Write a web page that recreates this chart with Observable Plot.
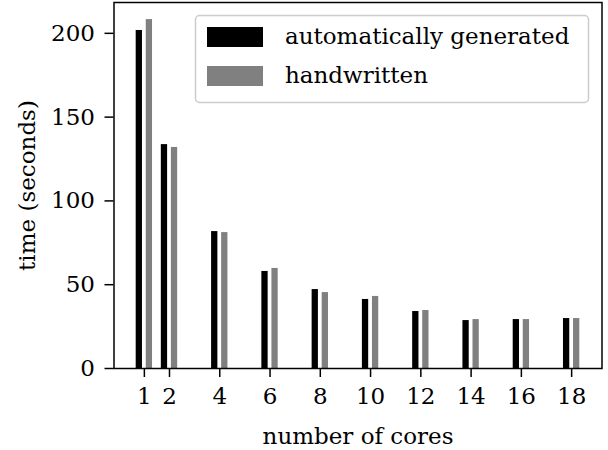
<!DOCTYPE html>
<html>
<head>
<meta charset="utf-8">
<script src="https://cdn.jsdelivr.net/npm/d3@7"></script>
<script src="https://cdn.jsdelivr.net/npm/@observablehq/plot@0.6"></script>
<style>
  html, body { margin: 0; padding: 0; background: white; }
  #chart { width: 608px; height: 450px; }
</style>
</head>
<body>
<div id="chart"></div>
<script>
const cores = [1, 2, 4, 6, 8, 10, 12, 14, 16, 18];
const automatic = [201.7, 133.6, 81.7, 57.9, 47.1, 41.2, 34.0, 28.6, 29.2, 29.8];
const handwritten = [208.2, 131.9, 81.1, 59.7, 45.3, 43.0, 34.6, 29.2, 29.2, 29.8];
const seriesNames = ["automatically generated", "handwritten"];
const seriesColors = ["#000000", "#808080"];
const yTicks = [0, 50, 100, 150, 200];

const barWidth = 0.25;
const barShift = [-0.2, 0.2];

const rows = [];
cores.forEach((c, i) => {
  rows.push({cores: c, time: automatic[i], s: 0});
  rows.push({cores: c, time: handwritten[i], s: 1});
});

const FONT = "DejaVu Serif";

const plot = Plot.plot({
  width: 608,
  height: 450,
  marginLeft: 113.5,
  marginRight: 6.5,
  marginTop: 2,
  marginBottom: 82,
  style: {fontFamily: FONT, fontSize: "23px", background: "white", color: "black"},
  x: {type: "linear", domain: [-0.208, 19.208]},
  y: {type: "linear", domain: [0, 218.4]},
  marks: [
    Plot.rectY(rows, {
      x1: d => d.cores + barShift[d.s] - barWidth / 2,
      x2: d => d.cores + barShift[d.s] + barWidth / 2,
      y1: 0,
      y2: "time",
      fill: d => seriesColors[d.s]
    }),
    Plot.axisX({
      ticks: cores, tickSize: 9, tickPadding: 10, strokeWidth: 1.5,
      label: "number of cores", labelAnchor: "center", labelArrow: "none", labelOffset: 75,
      fontSize: 23
    }),
    Plot.axisY({
      ticks: yTicks, tickSize: 9, tickPadding: 10, strokeWidth: 1.5,
      label: "time (seconds)", labelAnchor: "center", labelArrow: "none", labelOffset: 95,
      fontSize: 23
    }),
    Plot.frame({stroke: "black", strokeWidth: 1.5})
  ]
});

document.getElementById("chart").appendChild(plot);

// Legend inside the axes (upper right)
const svg = d3.select(plot);
const lg = svg.append("g")
  .attr("font-family", FONT)
  .attr("font-size", 23)
  .attr("text-anchor", "start");
lg.append("rect")
  .attr("x", 195.5).attr("y", 15.5).attr("width", 393).attr("height", 87)
  .attr("rx", 4).attr("ry", 4)
  .attr("fill", "white").attr("fill-opacity", 0.8)
  .attr("stroke", "#cccccc").attr("stroke-width", 1.5);
const rowY = [37, 76];
seriesNames.forEach((name, i) => {
  lg.append("rect")
    .attr("x", 207).attr("y", rowY[i] - 10).attr("width", 56).attr("height", 20)
    .attr("fill", seriesColors[i]);
  lg.append("text")
    .attr("x", 285).attr("y", rowY[i]).attr("dy", "0.32em")
    .attr("text-anchor", "start")
    .attr("fill", "black")
    .text(name);
});
</script>
</body>
</html>
